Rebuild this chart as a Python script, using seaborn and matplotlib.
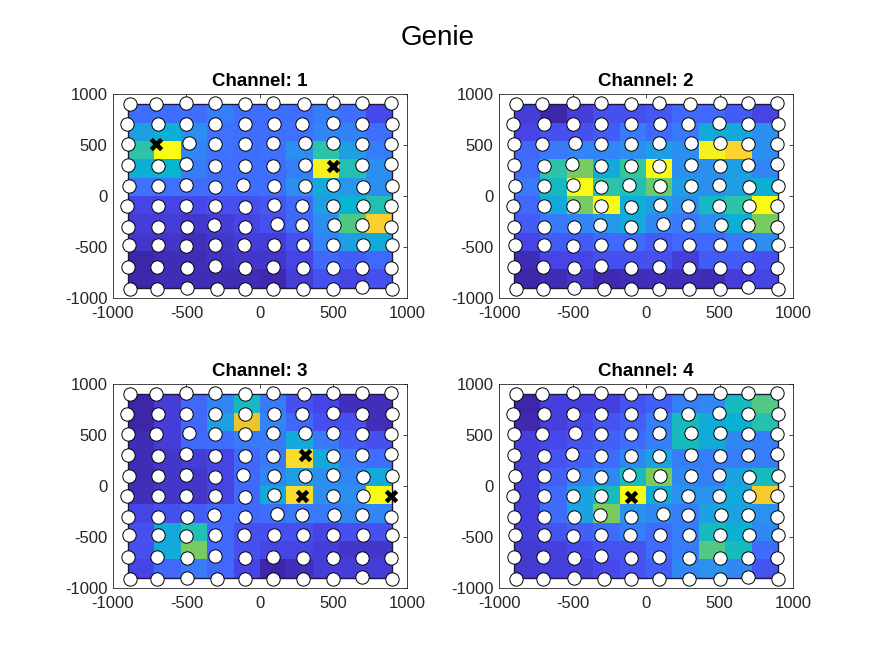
import numpy as np
import pandas as pd
import matplotlib
matplotlib.use("Agg")
import matplotlib.pyplot as plt
import seaborn as sns
from matplotlib.colors import LinearSegmentedColormap
from matplotlib.patches import Rectangle

# grid of cell edges (10 x 10 cells between -900 and 900)
cell_edges = np.linspace(-900, 900, 11)

# cell values per channel, rows listed top (y=900) to bottom (y=-900)
ch1 = [
    [0.22, 0.22, 0.22, 0.26, 0.22, 0.22, 0.22, 0.26, 0.22, 0.13],
    [0.35, 0.40, 0.30, 0.23, 0.22, 0.22, 0.23, 0.28, 0.27, 0.22],
    [0.50, 1.00, 0.28, 0.23, 0.22, 0.23, 0.30, 0.50, 0.35, 0.26],
    [0.40, 0.42, 0.26, 0.22, 0.22, 0.22, 0.26, 0.95, 0.48, 0.30],
    [0.23, 0.23, 0.22, 0.22, 0.22, 0.22, 0.30, 0.38, 0.32, 0.30],
    [0.12, 0.12, 0.13, 0.15, 0.15, 0.17, 0.21, 0.35, 0.42, 0.48],
    [0.10, 0.10, 0.08, 0.10, 0.12, 0.15, 0.21, 0.30, 0.55, 0.80],
    [0.08, 0.08, 0.06, 0.08, 0.10, 0.10, 0.15, 0.28, 0.35, 0.38],
    [0.03, 0.05, 0.05, 0.07, 0.08, 0.08, 0.12, 0.21, 0.18, 0.21],
    [0.03, 0.05, 0.05, 0.05, 0.05, 0.04, 0.10, 0.15, 0.12, 0.15],
]
ch2 = [
    [0.10, 0.03, 0.10, 0.15, 0.15, 0.17, 0.21, 0.21, 0.18, 0.12],
    [0.12, 0.15, 0.15, 0.18, 0.25, 0.21, 0.25, 0.38, 0.38, 0.30],
    [0.21, 0.25, 0.28, 0.28, 0.30, 0.35, 0.30, 0.95, 0.82, 0.30],
    [0.22, 0.50, 0.60, 0.38, 0.52, 1.00, 0.30, 0.30, 0.35, 0.28],
    [0.25, 0.45, 1.00, 0.50, 0.48, 0.58, 0.35, 0.30, 0.35, 0.40],
    [0.21, 0.38, 0.60, 1.00, 0.40, 0.35, 0.30, 0.45, 0.50, 1.00],
    [0.18, 0.25, 0.28, 0.32, 0.38, 0.28, 0.25, 0.30, 0.40, 0.60],
    [0.12, 0.18, 0.18, 0.21, 0.21, 0.18, 0.21, 0.21, 0.25, 0.30],
    [0.05, 0.12, 0.12, 0.15, 0.15, 0.15, 0.10, 0.18, 0.18, 0.15],
    [0.03, 0.05, 0.08, 0.04, 0.05, 0.06, 0.06, 0.05, 0.10, 0.12],
]
ch3 = [
    [0.03, 0.10, 0.21, 0.28, 0.45, 0.25, 0.15, 0.12, 0.06, 0.06],
    [0.03, 0.10, 0.21, 0.35, 0.75, 0.28, 0.21, 0.15, 0.15, 0.06],
    [0.05, 0.10, 0.21, 0.22, 0.25, 0.25, 0.38, 0.25, 0.18, 0.15],
    [0.05, 0.08, 0.10, 0.12, 0.21, 0.25, 0.85, 0.38, 0.25, 0.22],
    [0.05, 0.08, 0.08, 0.12, 0.21, 0.28, 0.35, 0.30, 0.28, 0.38],
    [0.06, 0.08, 0.08, 0.12, 0.21, 0.38, 0.85, 0.30, 0.30, 1.00],
    [0.12, 0.15, 0.18, 0.21, 0.21, 0.22, 0.25, 0.25, 0.28, 0.28],
    [0.15, 0.38, 0.48, 0.21, 0.15, 0.15, 0.15, 0.12, 0.15, 0.15],
    [0.15, 0.38, 0.60, 0.21, 0.15, 0.12, 0.12, 0.10, 0.08, 0.08],
    [0.12, 0.21, 0.25, 0.21, 0.12, 0.03, 0.06, 0.10, 0.10, 0.10],
]
ch4 = [
    [0.02, 0.10, 0.10, 0.10, 0.15, 0.18, 0.25, 0.28, 0.45, 0.55],
    [0.03, 0.10, 0.12, 0.15, 0.18, 0.25, 0.45, 0.38, 0.40, 0.48],
    [0.10, 0.12, 0.15, 0.18, 0.21, 0.25, 0.45, 0.38, 0.28, 0.25],
    [0.10, 0.15, 0.18, 0.21, 0.28, 0.35, 0.25, 0.25, 0.25, 0.25],
    [0.10, 0.18, 0.25, 0.28, 0.45, 0.60, 0.28, 0.25, 0.35, 0.45],
    [0.10, 0.21, 0.35, 0.45, 1.00, 0.38, 0.30, 0.30, 0.38, 0.78],
    [0.10, 0.21, 0.35, 0.60, 0.30, 0.28, 0.25, 0.35, 0.35, 0.30],
    [0.10, 0.15, 0.18, 0.21, 0.25, 0.21, 0.25, 0.45, 0.40, 0.28],
    [0.08, 0.10, 0.12, 0.15, 0.15, 0.21, 0.25, 0.55, 0.45, 0.21],
    [0.08, 0.10, 0.10, 0.12, 0.15, 0.18, 0.28, 0.30, 0.28, 0.15],
]
channels = [ch1, ch2, ch3, ch4]

# electrode positions, rows top to bottom
elec_x = [
    [-886, -705, -500, -307, -102, 91, 302, 500, 693, 891],
    [-902, -693, -500, -307, -102, 98, 284, 495, 693, 898],
    [-898, -705, -482, -307, -102, 91, 307, 500, 693, 891],
    [-898, -691, -505, -307, -102, 91, 307, 500, 693, 891],
    [-891, -691, -500, -307, -114, 98, 307, 495, 700, 898],
    [-902, -693, -500, -307, -102, 98, 284, 495, 700, 891],
    [-898, -691, -493, -311, -102, 114, 284, 507, 693, 891],
    [-891, -691, -500, -307, -109, 98, 291, 500, 700, 898],
    [-898, -698, -493, -307, -102, 91, 291, 500, 693, 891],
    [-886, -698, -493, -289, -102, 91, 291, 500, 693, 898],
]
elec_y = [
    [902, 900, 909, 915, 902, 909, 902, 915, 909, 909],
    [703, 710, 703, 710, 710, 703, 703, 718, 710, 703],
    [511, 507, 517, 507, 507, 517, 517, 517, 511, 511],
    [305, 295, 315, 295, 295, 295, 305, 295, 305, 315],
    [99, 99, 109, 93, 109, 99, 99, 109, 93, 99],
    [-96, -93, -93, -93, -103, -87, -96, -93, -96, -93],
    [-299, -299, -299, -289, -299, -276, -289, -289, -282, -299],
    [-484, -484, -494, -484, -484, -484, -484, -484, -484, -484],
    [-697, -697, -706, -690, -706, -697, -706, -706, -706, -706],
    [-908, -912, -902, -912, -908, -912, -908, -908, -892, -908],
]

# peak electrodes (channel, row, column) drawn as crosses
peak_channel = [1, 1, 3, 3, 3, 4]
peak_row = [2, 3, 3, 5, 5, 5]
peak_col = [1, 7, 6, 6, 9, 4]

parula = LinearSegmentedColormap.from_list("parula", [
    (0.2422, 0.1504, 0.6603), (0.2803, 0.2782, 0.9221), (0.2440, 0.4358, 0.9988),
    (0.1540, 0.5902, 0.9218), (0.0297, 0.7082, 0.8163), (0.1938, 0.7758, 0.6251),
    (0.5044, 0.7993, 0.3480), (0.8634, 0.7406, 0.1596), (0.9892, 0.8136, 0.1885),
    (0.9502, 0.9071, 0.1566), (0.9769, 0.9839, 0.0805)])

sns.set_style("white")
plt.rcParams["font.family"] = ["Liberation Sans", "DejaVu Sans"]
plt.rcParams["axes.unicode_minus"] = False

fig = plt.figure(figsize=(8.75, 6.57), dpi=100)
positions = [
    [0.1291, 0.5464, 0.3360, 0.3105],
    [0.5703, 0.5464, 0.3360, 0.3105],
    [0.1291, 0.1050, 0.3360, 0.3105],
    [0.5703, 0.1050, 0.3360, 0.3105],
]

ex = np.array(elec_x)
ey = np.array(elec_y)

for i, vals in enumerate(channels):
    ch = i + 1
    ax = fig.add_axes(positions[i])
    ax.pcolormesh(cell_edges, cell_edges, np.flipud(np.array(vals)), cmap=parula, shading="flat")
    # thin dark outline of the mesh
    ax.add_patch(Rectangle((cell_edges[0], cell_edges[0]), cell_edges[-1] - cell_edges[0],
                           cell_edges[-1] - cell_edges[0], fill=False, edgecolor="#1a1a40",
                           linewidth=1.0, zorder=2))

    mask = np.ones_like(ex, dtype=bool)
    pk = [(r, c) for pc, r, c in zip(peak_channel, peak_row, peak_col) if pc == ch]
    for r, c in pk:
        mask[r, c] = False
    df = pd.DataFrame({"x": ex[mask], "y": ey[mask]})
    sns.scatterplot(data=df, x="x", y="y", ax=ax, s=92, color="white",
                    edgecolor="black", linewidth=0.7, zorder=3)
    if pk:
        dp = pd.DataFrame({"x": [ex[r, c] for r, c in pk], "y": [ey[r, c] for r, c in pk]})
        sns.scatterplot(data=dp, x="x", y="y", ax=ax, marker="x", s=55, color="black",
                        linewidth=3.2, zorder=4)

    ax.set_xlim(-1000, 1000)
    ax.set_ylim(-1000, 1000)
    ax.set_xticks([-1000, -500, 0, 500, 1000])
    ax.set_yticks([-1000, -500, 0, 500, 1000])
    ax.set_xlabel("")
    ax.set_ylabel("")
    ax.tick_params(direction="in", length=3, width=0.6, top=True, right=True,
                   labelsize=12, colors="#262626", labelcolor="#262626")
    ax.tick_params(axis="x", pad=6)
    ax.tick_params(axis="y", pad=4)
    for sp in ax.spines.values():
        sp.set_visible(True)
        sp.set_color("#262626")
        sp.set_linewidth(0.6)
    ax.set_title(f"Channel: {ch}", fontsize=13.5, fontweight="bold", color="black", pad=6)

fig.suptitle("Genie", fontsize=20, y=0.962, color="black")
fig.savefig("out.png", dpi=100, facecolor="white")
